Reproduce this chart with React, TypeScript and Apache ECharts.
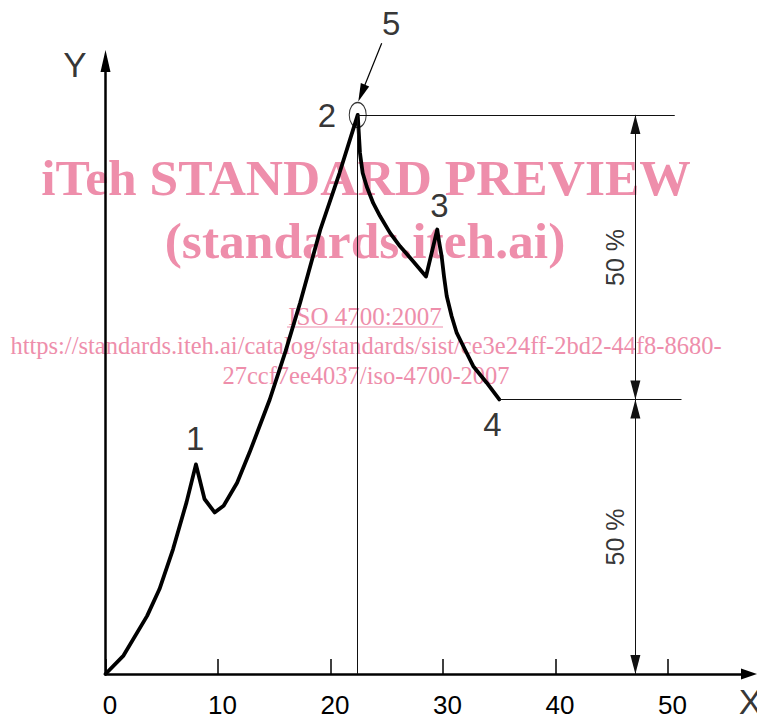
import { useEffect, useRef } from "react";
import * as echarts from "echarts";

// ---- data ----
const curveX = [0, 1.6, 3.7, 4.8, 6.0, 7.2, 8.04, 8.8, 9.7, 10.5, 11.7, 12.8, 14.6, 16.0, 17.3, 19.1, 20.8, 22.42, 22.62, 22.86, 23.22, 23.8, 24.4, 25.29, 26.18, 27.36, 28.49, 29.49, 29.67, 29.88, 30.09, 30.33, 30.77, 31.22, 31.96, 32.69, 33.88, 35.0];
const curveY = [0, 3.3, 10.4, 15.2, 22.3, 30.7, 37.5, 31.3, 28.9, 30.1, 34.2, 39.6, 49.1, 57.7, 66.4, 79.5, 89.6, 100, 93.2, 89.6, 87.2, 84.2, 81.9, 78.9, 76.5, 73.8, 71.1, 79.5, 77.1, 74.7, 71.1, 67.6, 64.0, 61.0, 58.0, 55.05, 52.1, 49.1];

const xTickValues = [0, 10, 20, 30, 40, 50];
const X_MAX = 57.2;
const Y_MAX = 109.64;

const peak2 = [22.42, 100];
const point4 = [35.0, 49.1];
const dimX = 47.1;
const topLineEndX = 50.6;
const midLineEndX = 51.2;

const pointLabels = ["1", "2", "3", "4", "5"];
const pointLabelX = [7.96, 19.69, 29.69, 34.4, 25.4];
const pointLabelY = [42.1, 99.86, 83.75, 44.64, 116.4];

const axisNames = ["X", "Y"];
const axisNameX = [57.33, -2.71];
const axisNameY = [-4.91, 109.1];

const dimLabel = "50 %";
const dimLabelX = 45.3;
const dimLabelY = [74.5, 24.5];

const pointer5From = [24.55, 112.8];
const pointer5To = [22.77, 103.9];

const watermarkLines = [
  "iTeh STANDARD PREVIEW",
  "(standards.iteh.ai)",
  "ISO 4700:2007",
  "https://standards.iteh.ai/catalog/standards/sist/ce3e24ff-2bd2-44f8-8680-",
  "27ccf7ee4037/iso-4700-2007",
];

const PINK = "#ee8eab";
const SANS = "'Liberation Sans', Arial, sans-serif";
const SERIF = "'Liberation Serif', 'Times New Roman', serif";

export default function App() {
  const ref = useRef<HTMLDivElement>(null);

  useEffect(() => {
    if (!ref.current) return;
    const chart = echarts.init(ref.current, null, { renderer: "svg" });

    const gridLeft = 105.5;
    const gridTop = 61;
    const gridWidth = 643.5;
    const gridHeight = 614;

    const curveData = curveX.map((x, i) => [x, curveY[i]]);

    const labelData = [
      ...pointLabels.map((t, i) => ({
        name: t,
        value: [pointLabelX[i], pointLabelY[i]],
        label: { fontSize: 33 },
      })),
      ...axisNames.map((t, i) => ({
        name: t,
        value: [axisNameX[i], axisNameY[i]],
        label: { fontSize: 35 },
      })),
      ...dimLabelY.map((y) => ({
        name: dimLabel,
        value: [dimLabelX, y],
        label: { fontSize: 25, rotate: 90 },
      })),
    ];

    const thinLine = { color: "#111", width: 1, type: "solid" as const };
    const arrowSize = [10, 19];
    const arrowOffset = [0, 9.5];
    const arrowEnd = (coord: number[]) => ({
      coord,
      symbol: "triangle",
      symbolSize: arrowSize,
      symbolOffset: arrowOffset,
      itemStyle: { color: "#000" },
    });

    const wmText = (text: string, x: number, y: number, size: number, bold: boolean) => ({
      type: "text",
      x,
      y,
      z: 0,
      silent: true,
      style: {
        text,
        fontFamily: SERIF,
        fontWeight: bold ? "bold" : "normal",
        fontSize: size,
        fill: PINK,
        align: "center",
        verticalAlign: "middle",
      },
    });

    chart.setOption({
      animation: false,
      grid: { left: gridLeft, top: gridTop, width: gridWidth, height: gridHeight, containLabel: false },
      xAxis: {
        type: "value",
        min: 0,
        max: X_MAX,
        axisLine: {
          show: true,
          onZero: false,
          symbol: ["none", "triangle"],
          symbolSize: [11, 16],
          lineStyle: { color: "#000", width: 2.5 },
        },
        axisTick: {
          show: true,
          inside: true,
          length: 15,
          customValues: xTickValues,
          lineStyle: { color: "#000", width: 1.5 },
        },
        axisLabel: {
          show: true,
          customValues: xTickValues,
          fontSize: 26,
          fontFamily: SANS,
          color: "#000",
          margin: 18,
          padding: [0, 0, 0, 9],
        },
        splitLine: { show: false },
      },
      yAxis: {
        type: "value",
        min: 0,
        max: Y_MAX,
        axisLine: {
          show: true,
          onZero: false,
          symbol: ["none", "triangle"],
          symbolSize: [10, 22],
          lineStyle: { color: "#000", width: 2.5 },
        },
        axisTick: { show: false },
        axisLabel: { show: false },
        splitLine: { show: false },
      },
      graphic: [
        wmText(watermarkLines[0], 366, 177, 51.5, true),
        wmText(watermarkLines[1], 365, 240, 51.5, true),
        wmText(watermarkLines[2], 365, 316.6, 25, false),
        {
          type: "line",
          z: 0,
          silent: true,
          shape: { x1: 287, y1: 327, x2: 443, y2: 327 },
          style: { stroke: PINK, lineWidth: 1.2 },
        },
        wmText(watermarkLines[3], 366, 345, 24.5, false),
        wmText(watermarkLines[4], 366, 375, 24.5, false),
      ],
      series: [
        {
          type: "line",
          data: curveData,
          showSymbol: false,
          symbol: "none",
          smooth: false,
          clip: false,
          z: 3,
          itemStyle: { color: "#000" },
          lineStyle: { color: "#000", width: 3.8, join: "round", cap: "round" },
          markLine: {
            silent: true,
            animation: false,
            symbol: ["none", "none"],
            label: { show: false },
            lineStyle: thinLine,
            itemStyle: { color: "#000" },
            emphasis: { disabled: true },
            data: [
              [{ coord: [peak2[0], 0] }, { coord: [peak2[0], peak2[1]] }],
              [{ coord: [peak2[0], peak2[1]] }, { coord: [topLineEndX, peak2[1]] }],
              [{ coord: [point4[0], point4[1]] }, { coord: [midLineEndX, point4[1]] }],
              [arrowEnd([dimX, point4[1]]), arrowEnd([dimX, peak2[1]])],
              [arrowEnd([dimX, 0]), arrowEnd([dimX, point4[1]])],
            ],
          },
        },
        {
          type: "scatter",
          data: labelData,
          clip: false,
          symbol: "circle",
          symbolSize: 1,
          itemStyle: { color: "rgba(0,0,0,0)" },
          silent: true,
          z: 4,
          label: {
            show: true,
            position: "inside",
            formatter: "{b}",
            color: "#000",
            fontFamily: SANS,
            align: "center",
            verticalAlign: "middle",
          },
        },
        {
          type: "scatter",
          data: [peak2],
          clip: false,
          silent: true,
          z: 5,
          symbol: "path://M0,12 A8,12 0 1 1 16,12 A8,12 0 1 1 0,12 Z",
          symbolSize: [17, 25],
          itemStyle: { color: "rgba(0,0,0,0)", borderColor: "#000", borderWidth: 1.2 },
        },
        {
          type: "lines",
          coordinateSystem: "cartesian2d",
          clip: false,
          silent: true,
          z: 5,
          symbol: ["none", "triangle"],
          symbolSize: [1, [9, 18]],
          lineStyle: { color: "#000", width: 1.2, opacity: 1 },
          data: [{ coords: [pointer5From, pointer5To] }],
        },
      ],
    });

    return () => chart.dispose();
  }, []);

  return (
    <div
      ref={ref}
      style={{ position: "fixed", left: 0, top: 0, width: 757, height: 718, background: "#fff" }}
    />
  );
}
